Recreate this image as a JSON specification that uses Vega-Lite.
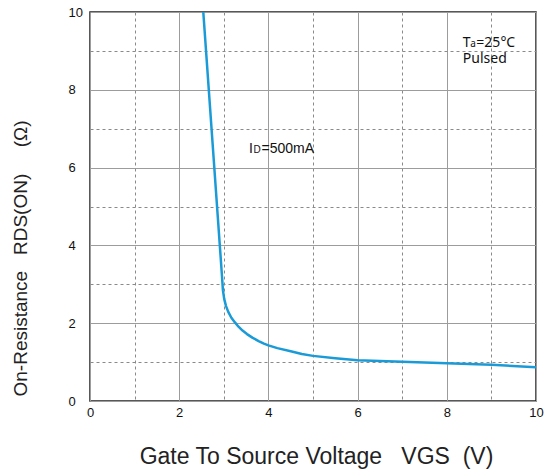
{
  "$schema": "https://vega.github.io/schema/vega-lite/v6.json",
  "width": 446,
  "height": 389,
  "autosize": "none",
  "padding": {"left": 90, "top": 12, "right": 14, "bottom": 71},
  "background": "white",
  "config": {
    "view": {"stroke": "#222", "strokeWidth": 1.5},
    "axis": {
      "ticks": false,
      "domain": false,
      "labelFont": "Liberation Sans",
      "labelFontSize": 13,
      "labelColor": "#111",
      "labelFlush": false,
      "labelOverlap": false,
      "labelBound": false,
      "labelExpr": "datum.value % 2 === 0 ? datum.label : ''",
      "gridWidth": 1,
      "gridColor": {"condition": {"test": "datum.value % 2 === 1", "value": "#8a8a8a"}, "value": "#9c9c9c"},
      "gridDash": {"condition": {"test": "datum.value % 2 === 1", "value": [3, 3]}, "value": []},
      "titleFont": "Liberation Sans",
      "titleFontWeight": "normal",
      "titleColor": "#222"
    }
  },
  "encoding": {
    "x": {
      "field": "x",
      "type": "quantitative",
      "scale": {"domain": [0, 10], "nice": false},
      "axis": {
        "values": [0, 1, 2, 3, 4, 5, 6, 7, 8, 9, 10],
        "labelPadding": 5,
        "title": "Gate To Source Voltage\u00a0\u00a0\u00a0VGS\u00a0\u00a0(V)",
        "titleFontSize": 23,
        "titleX": 226,
        "titleY": 55,
        "titleAlign": "center",
        "titleBaseline": "middle"
      }
    },
    "y": {
      "field": "y",
      "type": "quantitative",
      "scale": {"domain": [0, 10], "nice": false},
      "axis": {
        "values": [0, 1, 2, 3, 4, 5, 6, 7, 8, 9, 10],
        "labelAlign": "left",
        "labelBaseline": "middle",
        "labelPadding": 22,
        "title": "On-Resistance\u00a0\u00a0\u00a0RDS(ON)\u00a0\u00a0\u00a0\u00a0\u00a0(Ω)",
        "titleFontSize": 19,
        "titleAngle": -90,
        "titleX": -70,
        "titleY": 246,
        "titleAlign": "center",
        "titleBaseline": "middle"
      }
    }
  },
  "layer": [
    {
      "data": {"values": [
        {"x": 2.54, "y": 10},
        {"x": 2.96, "y": 3.2},
        {"x": 2.98, "y": 2.85},
        {"x": 3.01, "y": 2.62},
        {"x": 3.05, "y": 2.44},
        {"x": 3.1, "y": 2.29},
        {"x": 3.17, "y": 2.14},
        {"x": 3.25, "y": 2.02},
        {"x": 3.33, "y": 1.91},
        {"x": 3.42, "y": 1.81},
        {"x": 3.52, "y": 1.72},
        {"x": 3.64, "y": 1.63},
        {"x": 3.78, "y": 1.54},
        {"x": 3.9, "y": 1.475},
        {"x": 4.0, "y": 1.43},
        {"x": 4.2, "y": 1.36},
        {"x": 4.5, "y": 1.28},
        {"x": 4.75, "y": 1.21},
        {"x": 5.0, "y": 1.16},
        {"x": 5.5, "y": 1.1},
        {"x": 6.0, "y": 1.05},
        {"x": 7.0, "y": 1.01},
        {"x": 8.0, "y": 0.97},
        {"x": 9.0, "y": 0.93},
        {"x": 10.0, "y": 0.87}
      ]},
      "mark": {"type": "line", "color": "#1a9bd7", "strokeWidth": 2.5, "interpolate": "linear", "strokeJoin": "round", "clip": true}
    },
    {
      "data": {"values": [{"x": 8.36, "y": 9.11, "t": "T"}]},
      "mark": {"type": "text", "align": "left", "baseline": "alphabetic", "font": "Noto Sans", "fontSize": 14, "color": "#111"},
      "encoding": {"text": {"field": "t"}}
    },
    {
      "data": {"values": [{"x": 8.36, "y": 9.11, "t": "a"}]},
      "mark": {"type": "text", "align": "left", "baseline": "alphabetic", "font": "Noto Sans", "fontSize": 10, "dx": 7.5, "color": "#111"},
      "encoding": {"text": {"field": "t"}}
    },
    {
      "data": {"values": [{"x": 8.36, "y": 9.11, "t": "=25°C"}]},
      "mark": {"type": "text", "align": "left", "baseline": "alphabetic", "font": "Noto Sans", "fontSize": 14, "dx": 13.5, "color": "#111"},
      "encoding": {"text": {"field": "t"}}
    },
    {
      "data": {"values": [{"x": 8.36, "y": 8.69, "t": "Pulsed"}]},
      "mark": {"type": "text", "align": "left", "baseline": "alphabetic", "font": "Noto Sans", "fontSize": 14, "color": "#111"},
      "encoding": {"text": {"field": "t"}}
    },
    {
      "data": {"values": [{"x": 3.565, "y": 6.38, "t": "I"}]},
      "mark": {"type": "text", "align": "left", "baseline": "alphabetic", "font": "Liberation Sans", "fontSize": 14, "color": "#111"},
      "encoding": {"text": {"field": "t"}}
    },
    {
      "data": {"values": [{"x": 3.565, "y": 6.38, "t": "D"}]},
      "mark": {"type": "text", "align": "left", "baseline": "alphabetic", "font": "Liberation Sans", "fontSize": 10, "dx": 4.5, "color": "#111"},
      "encoding": {"text": {"field": "t"}}
    },
    {
      "data": {"values": [{"x": 3.565, "y": 6.38, "t": "=500mA"}]},
      "mark": {"type": "text", "align": "left", "baseline": "alphabetic", "font": "Liberation Sans", "fontSize": 14, "dx": 12.5, "color": "#111"},
      "encoding": {"text": {"field": "t"}}
    }
  ]
}
